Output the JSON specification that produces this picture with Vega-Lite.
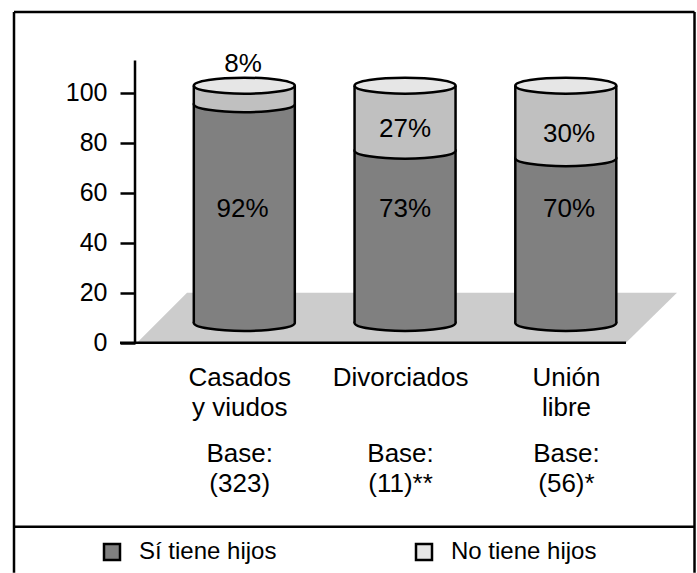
{
"$schema":"https://vega.github.io/schema/vega-lite/v6.json",
"width":697,"height":573,"padding":0,"autosize":{"type":"none"},
"background":"white",
"config":{"view":{"stroke":null},"font":"Liberation Sans"},
"datasets":{
"cilindros":[
{"grupo":"Casados y viudos","pos":1,"base":7.9,"limite":95.4,"tope":102.8},
{"grupo":"Divorciados","pos":2,"base":7.9,"limite":76.8,"tope":102.8},
{"grupo":"Unión libre","pos":3,"base":7.9,"limite":73.8,"tope":102.8}
],
"rotulos":[
{"pos":0.9714,"nombre":"Casados\ny viudos","muestra":"Base:\n(323)"},
{"pos":1.972,"nombre":"Divorciados","muestra":"Base:\n(11)**"},
{"pos":3.004,"nombre":"Unión\nlibre","muestra":"Base:\n(56)*"}
],
"etiquetas":[
{"pos":0.989,"texto":"92%","altura":53.6},
{"pos":2,"texto":"73%","altura":53.6},
{"pos":3.02,"texto":"70%","altura":53.6},
{"pos":0.992,"texto":"8%","altura":111.4},
{"pos":2,"texto":"27%","altura":85.6},
{"pos":3.02,"texto":"30%","altura":83.6}
],
"piso":[
{"x":0.3325,"a":0,"b":0},
{"x":0.6436,"a":0,"b":20},
{"x":3.3745,"a":0,"b":20},
{"x":3.6917,"a":20,"b":20}
],
"lineas":[
{"x":0.3201,"x2":0.3201,"y":0,"y2":112.9},
{"x":0.2268,"x2":3.3745,"y":0,"y2":0},
{"x":-0.4327,"x2":-0.4327,"y":132.3,"y2":-92},
{"x":3.8007,"x2":3.8007,"y":132.3,"y2":-92},
{"x":-0.4327,"x2":3.8007,"y":132.3,"y2":132.3},
{"x":-0.4327,"x2":3.8007,"y":-73.6,"y2":-73.6}
]
},
"encoding":{
"x":{"field":"pos","type":"quantitative","scale":{"domain":[-0.5198,3.8162],"nice":false,"zero":false,"padding":0},"axis":null}
},
"layer":[
{"data":{"name":"piso"},"mark":{"type":"area","color":"#cccccc","orient":"vertical","opacity":1},
 "encoding":{"x":{"field":"x","type":"quantitative"},
 "y":{"field":"a","type":"quantitative","scale":{"domain":[-92.12,137.08],"nice":false,"zero":false},
  "axis":{"title":null,"values":[0,20,40,60,80,100],"domain":false,"grid":false,"offset":-135,"tickSize":15,"tickWidth":2.5,"tickColor":"black","labelPadding":13,"labelFontSize":25,"labelColor":"black","labelFont":"Liberation Sans","zindex":1}},
 "y2":{"field":"b"}}},
{"data":{"name":"lineas"},"mark":{"type":"rule","color":"black","strokeWidth":2.5},
 "encoding":{"x":{"field":"x","type":"quantitative"},"x2":{"field":"x2"},"y":{"field":"y","type":"quantitative"},"y2":{"field":"y2"}}},
{"data":{"name":"cilindros"},"mark":{"type":"point","shape":"M-1,0A1,0.158 0 1,1 1,0A1,0.158 0 1,1 -1,0Z","size":10201,"filled":true,"fill":"#808080","stroke":"black","strokeWidth":2.5,"opacity":1},
 "encoding":{"y":{"field":"base","type":"quantitative"}}},
{"data":{"name":"cilindros"},"mark":{"type":"bar","size":101,"orient":"vertical","opacity":1},
 "encoding":{"y":{"field":"base","type":"quantitative"},"y2":{"field":"limite"},
 "fill":{"datum":"Sí tiene hijos","type":"nominal","scale":{"domain":["Sí tiene hijos","No tiene hijos"],"range":["#808080","#e6e6e6"]},
  "legend":{"title":null,"orient":"none","legendX":100,"legendY":540,"direction":"horizontal","columns":2,"symbolType":"square","symbolSize":256,"symbolStrokeColor":"black","symbolStrokeWidth":2.5,"symbolOpacity":1,"labelFontSize":24,"labelColor":"black","labelFont":"Liberation Sans","labelOffset":15,"columnPadding":134,"labelLimit":300}}}},
{"data":{"name":"cilindros"},"mark":{"type":"point","shape":"M-1,0A1,0.158 0 1,1 1,0A1,0.158 0 1,1 -1,0Z","size":10201,"filled":true,"fill":"#c0c0c0","stroke":"black","strokeWidth":2.5,"opacity":1},
 "encoding":{"y":{"field":"limite","type":"quantitative"}}},
{"data":{"name":"cilindros"},"mark":{"type":"bar","size":101,"orient":"vertical","color":"#c0c0c0","opacity":1},
 "encoding":{"y":{"field":"limite","type":"quantitative"},"y2":{"field":"tope"}}},
{"data":{"name":"cilindros"},"mark":{"type":"point","shape":"M-1,0A1,0.158 0 1,1 1,0A1,0.158 0 1,1 -1,0Z","size":10201,"filled":true,"stroke":"black","strokeWidth":2.5,"opacity":1},
 "encoding":{"y":{"field":"tope","type":"quantitative"},"fill":{"datum":"No tiene hijos","type":"nominal"}}},
{"data":{"name":"cilindros"},"mark":{"type":"rule","color":"black","strokeWidth":2.5,"xOffset":-50.5},
 "encoding":{"y":{"field":"base","type":"quantitative"},"y2":{"field":"tope"}}},
{"data":{"name":"cilindros"},"mark":{"type":"rule","color":"black","strokeWidth":2.5,"xOffset":50.5},
 "encoding":{"y":{"field":"base","type":"quantitative"},"y2":{"field":"tope"}}},
{"data":{"name":"etiquetas"},"mark":{"type":"text","fontSize":26,"color":"black","align":"center","baseline":"middle"},
 "encoding":{"y":{"field":"altura","type":"quantitative"},"text":{"field":"texto"}}},
{"data":{"name":"rotulos"},"mark":{"type":"text","fontSize":26,"color":"black","align":"center","baseline":"top","lineBreak":"\n","lineHeight":30},
 "encoding":{"y":{"datum":-9.1},"text":{"field":"nombre"}}},
{"data":{"name":"rotulos"},"mark":{"type":"text","fontSize":26,"color":"black","align":"center","baseline":"top","lineBreak":"\n","lineHeight":30},
 "encoding":{"y":{"datum":-39.5},"text":{"field":"muestra"}}}
]
}
